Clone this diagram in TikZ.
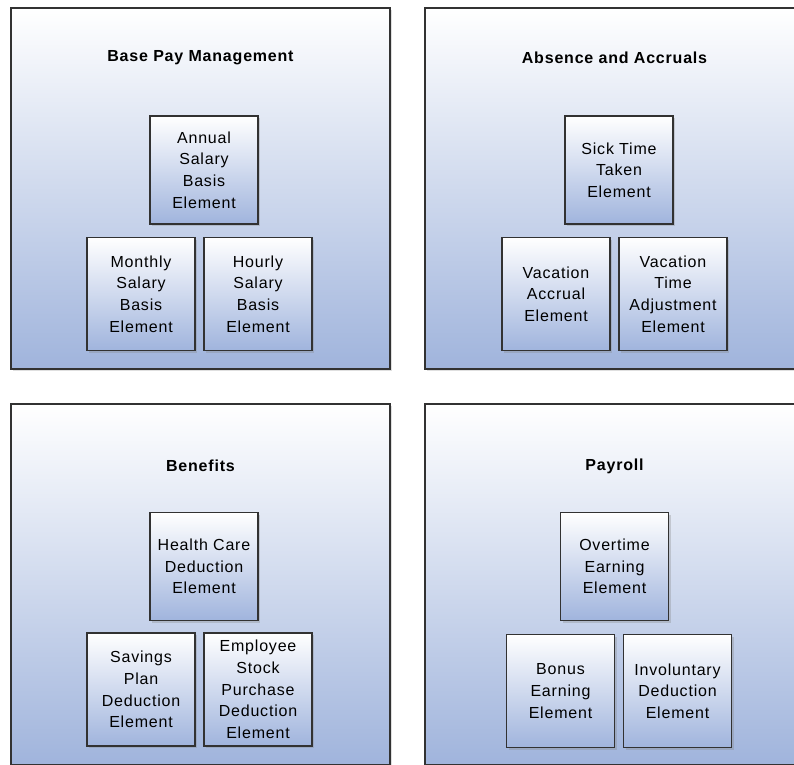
\documentclass[tikz,border=0pt]{standalone}
\usepackage{fontspec}
\setmainfont{Liberation Sans}[LetterSpace=5]
\usepackage{tikz}
\usetikzlibrary{shadows,positioning}

\definecolor{edgegray}{RGB}{50,50,50}
\definecolor{panelblue}{RGB}{160,180,220}
\definecolor{elemblue}{RGB}{160,180,221}

\begin{document}
\begin{tikzpicture}[x=1pt,y=-1pt,
		panel/.style={draw=edgegray,line width=1.6pt,minimum width=379pt,minimum height=361pt,
			top color=white,bottom color=panelblue,inner sep=0pt,
			drop shadow={opacity=0.25,shadow xshift=2pt,shadow yshift=-2pt}},
		title/.style={font=\bfseries\fontsize{16}{19}\selectfont},
		elem/.style={draw=edgegray,line width=1.9pt,minimum width=108pt,minimum height=108pt,
			top color=white,bottom color=elemblue,align=center,inner sep=2pt,
			font=\fontsize{16}{21.7}\selectfont,
			drop shadow={opacity=0.3,shadow xshift=2pt,shadow yshift=-2pt}},
		tallelem/.style={elem,minimum height=113pt}]
	\useasboundingbox (0,0) rectangle (794,764);
	\fill[white] (0,0) rectangle (794,764);
	% the four panels
	\node[panel] (basepay) at (200.5,188.5) {};
	\node[panel] (absence) at (614.5,188.5) {};
	\node[panel] (benefits) at (200.5,584.5) {};
	\node[panel] (payroll) at (614.5,584.5) {};
	\node[title] (basepaytitle) at (200.5,58) {Base Pay Management};
	\node[title] (absencetitle) at (614.5,58) {Absence and Accruals};
	\node[title] (benefitstitle) at (200.5,466) {Benefits};
	\node[title] (payrolltitle) at (614.5,466) {Payroll};
	% base pay
	\node[elem] (annual) at (204,170) {Annual\\Salary\\Basis\\Element};
	\node[tallelem] (monthly) at (141,294) {Monthly\\Salary\\Basis\\Element};
	\node[tallelem] (hourly) at (258,294) {Hourly\\Salary\\Basis\\Element};
	% absence
	\node[elem] (sick) at (619,170) {Sick Time\\Taken\\Element};
	\node[tallelem] (vacaccrual) at (556,294) {Vacation\\Accrual\\Element};
	\node[tallelem] (vacadjust) at (673,294) {Vacation\\Time\\Adjustment\\Element};
	% benefits
	\node[elem] (health) at (204,566.5) {Health Care\\Deduction\\Element};
	\node[tallelem] (savings) at (141,689.5) {Savings\\Plan\\Deduction\\Element};
	\node[tallelem] (stock) at (258,689.5) {Employee\\Stock\\Purchase\\Deduction\\Element};
	% payroll
	\node[elem] (overtime) at (614.5,566.5) {Overtime\\Earning\\Element};
	\node[tallelem] (bonus) at (560.5,691) {Bonus\\Earning\\Element};
	\node[tallelem] (involuntary) at (677.5,691) {Involuntary\\Deduction\\Element};
\end{tikzpicture}
\end{document}
